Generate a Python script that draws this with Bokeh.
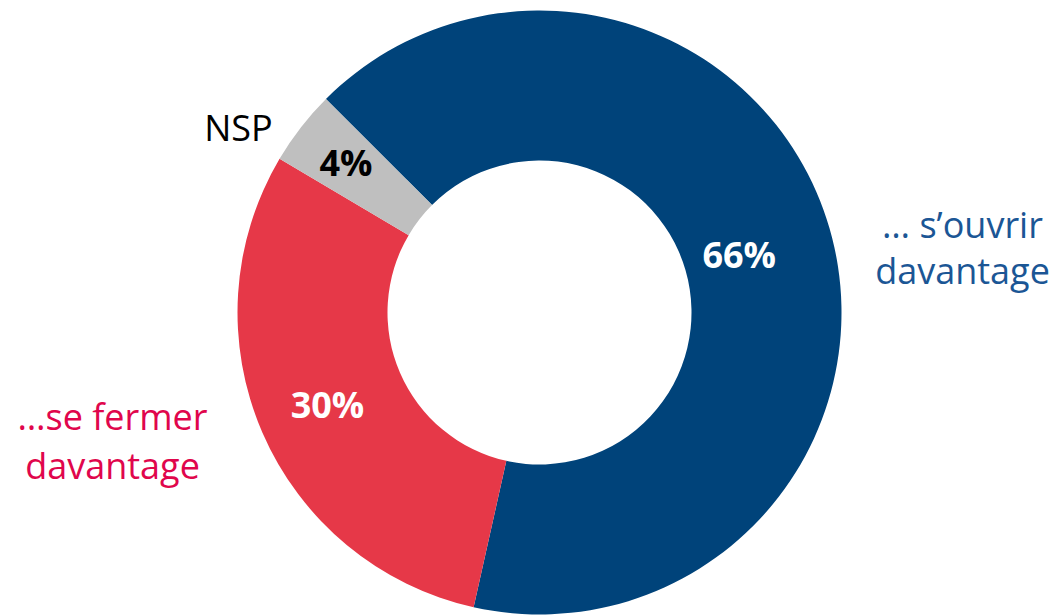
import math
from bokeh.plotting import figure
from bokeh.models import ColumnDataSource, Range1d
from bokeh.core.properties import value
from bokeh.embed import file_html
from bokeh.resources import INLINE

# ---- data ----
categories = ["… s’ouvrir davantage", "…se fermer davantage", "NSP"]
values = [66, 30, 4]
pct_labels = ["66%", "30%", "4%"]
colors = ["#00437A", "#E63848", "#BFBFBF"]
pct_colors = ["white", "white", "black"]

# ---- layout ----
W, H = 1059, 615
cx, cy = 539, 303
r_in, r_out = 152, 302
start_deg = 135.0
label_r = [208, 231, 245]

total = sum(values)
starts, ends, mids = [], [], []
a = math.radians(start_deg)
for v in values:
    sweep = 2 * math.pi * v / total
    starts.append(a)
    ends.append(a - sweep)
    mids.append(a - sweep / 2)
    a -= sweep

src = ColumnDataSource(dict(cat=categories, val=values, start=starts, end=ends, color=colors))

p = figure(width=W, height=H, x_range=Range1d(0, W), y_range=Range1d(0, H),
           output_backend="svg", toolbar_location=None, min_border=0)
p.axis.visible = False
p.grid.visible = False
p.outline_line_color = None
p.background_fill_color = "white"

p.annular_wedge(x=cx, y=cy, inner_radius=r_in, outer_radius=r_out,
                start_angle="start", end_angle="end", direction="clock",
                fill_color="color", line_color=None, source=src)

lx = [cx + r * math.cos(m) for r, m in zip(label_r, mids)]
ly = [cy + r * math.sin(m) for r, m in zip(label_r, mids)]
p.text(x=lx, y=ly, text=pct_labels, text_color=pct_colors,
       text_align="center", text_baseline="middle",
       text_font=value("Open Sans"), text_font_size="36px", text_font_style="bold")

font = value("Open Sans")
# category labels
p.text(x=[962, 962], y=[391, 345], text=["… s’ouvrir", "davantage"],
       text_color="#1B5695", text_align="center", text_baseline="middle",
       text_font=font, text_font_size="36px")
p.text(x=[112, 112], y=[199, 150], text=["…se fermer", "davantage"],
       text_color="#E0064C", text_align="center", text_baseline="middle",
       text_font=font, text_font_size="36px")
p.text(x=[238], y=[488], text=["NSP"],
       text_color="black", text_align="center", text_baseline="middle",
       text_font=font, text_font_size="36px")

open("out.html", "w").write(file_html(p, INLINE))
